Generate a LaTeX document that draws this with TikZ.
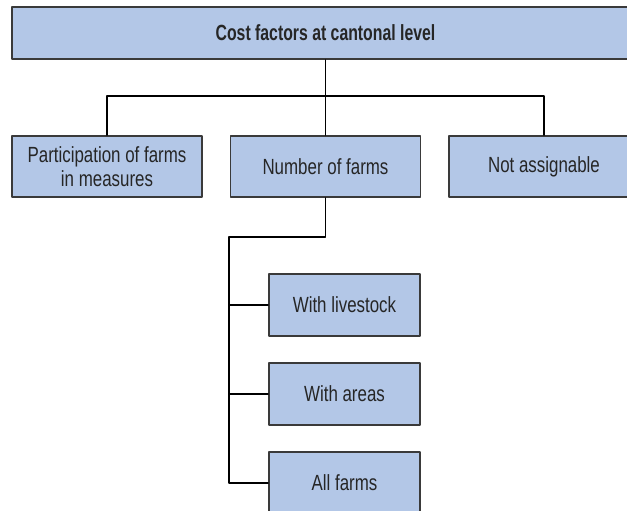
\documentclass[tikz,border=0pt]{standalone}
\usepackage{fontspec}
\setmainfont{Liberation Sans}[FakeStretch=0.77]
\newfontfamily\titlefont{Liberation Sans}[FakeStretch=0.72]
\usetikzlibrary{calc}
\definecolor{boxblue}{HTML}{B3C7E7}
\definecolor{boxline}{HTML}{3A3A3A}
\begin{document}
\begin{tikzpicture}[x=0.02cm, y=-0.02cm, line cap=round, line join=round, font=\fontsize{12.5}{14}\selectfont]
	\tikzset{
		factor/.style={draw=boxline, line width=1pt, fill=boxblue, align=center, inner sep=0pt,
			minimum width=3.8cm, minimum height=1.22cm, text=black!85},
		subfactor/.style={factor, minimum width=3.02cm, minimum height=1.24cm},
		link/.style={draw=black, line width=0.75pt}
	}
	\clip (0,0) rectangle (627,511);
	% top level
	\node[factor, minimum width=12.54cm, minimum height=1.04cm, font=\fontsize{12.5}{14}\titlefont\bfseries] (top) at (325.5,33) {Cost factors at cantonal level};
	% second level
	\node[factor] (part) at (107,166.5) {Participation of farms\\in measures};
	\node[factor] (num) at (325.5,166.5) {Number of farms};
	\node[factor] (nass) at (544,166.5) {Not assignable};
	% third level
	\node[subfactor] (live) at (344.5,305) {With livestock};
	\node[subfactor] (area) at (344.5,394) {With areas};
	\node[subfactor] (all) at (344.5,483) {All farms};
	% connectors
	\draw[link] (top.south -| num.north) -- (num.north);
	\draw[link] (part.north) -- ++(0,-39) -| (nass.north);
	\coordinate (spine) at (229,237);
	\draw[link] (num.south) |- (spine) -- (spine |- all.west) -- (all.west);
	\draw[link] (spine |- live.west) -- (live.west);
	\draw[link] (spine |- area.west) -- (area.west);
\end{tikzpicture}
\end{document}
